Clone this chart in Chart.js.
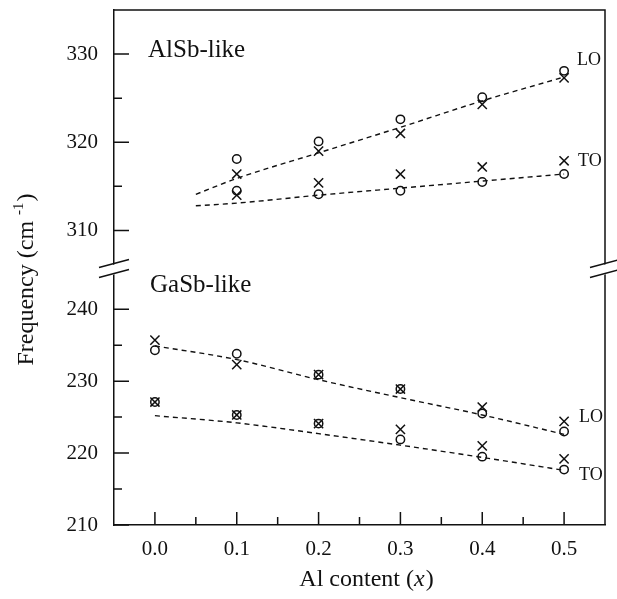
<!DOCTYPE html>
<html>
<head>
<meta charset="utf-8">
<script src="https://cdn.jsdelivr.net/npm/chart.js@4/dist/chart.umd.min.js"></script>
<style>
  html, body { margin: 0; padding: 0; background: #fff; }
  #wrap { width: 617px; height: 599px; }
</style>
</head>
<body>
<div id="wrap"><canvas id="freqChart" width="617" height="599"></canvas></div>
<script>
// Al content (x)
const xAll = [0.0, 0.1, 0.2, 0.3, 0.4, 0.5]
const xAlSb = [0.1, 0.2, 0.3, 0.4, 0.5]
const xAlSbFit = [0.05, 0.1, 0.2, 0.3, 0.4, 0.5]

// AlSb-like modes (cm-1)
const alsbLoCircle = [318.1, 320.1, 322.6, 325.1, 328.1]
const alsbLoCross = [316.4, 319.0, 321.0, 324.3, 327.3]
const alsbToCross = [314.0, 315.4, 316.4, 317.2, 317.9]
const alsbToCircle = [314.5, 314.1, 314.5, 315.5, 316.4]
const alsbLoFit = [314.1, 315.9, 318.8, 321.7, 324.7, 327.4]
const alsbToFit = [312.8, 313.1, 314.0, 314.8, 315.6, 316.4]

// GaSb-like modes (cm-1)
const gasbLoCross = [235.7, 232.3, 230.9, 228.9, 226.4, 224.4]
const gasbLoCircle = [234.3, 233.8, 230.9, 228.9, 225.5, 223.0]
const gasbToCross = [227.1, 225.3, 224.1, 223.3, 221.0, 219.2]
const gasbToCircle = [227.1, 225.3, 224.1, 221.9, 219.5, 217.7]
const gasbLoFit = [234.9, 233.0, 230.2, 227.7, 225.3, 222.6]
const gasbToFit = [225.2, 224.2, 222.7, 221.1, 219.4, 217.6]

// ticks
const xTicks = [0.0, 0.1, 0.2, 0.3, 0.4, 0.5]
const xMinor = [0.05, 0.15, 0.25, 0.35, 0.45]
const yTopTicks = [310, 320, 330]
const yTopMinor = [315, 325]
const yBotTicks = [210, 220, 230, 240]
const yBotMinor = [215, 225, 235]

const FONT = '"Liberation Serif", "DejaVu Serif", serif'
const INK = '#111'
const LW = 1.5

function pts(xs, ys) {
  return xs.map((x, i) => ({ x: x, y: ys[i] }))
}

function marks(xs, ys, style, axis) {
  const isCircle = style === 'circle'
  return {
    data: pts(xs, ys),
    yAxisID: axis,
    showLine: false,
    pointStyle: style,
    pointRadius: isCircle ? 4.2 : 6.5,
    pointBorderWidth: 1.5,
    pointBorderColor: INK,
    pointBackgroundColor: 'rgba(0,0,0,0)',
  }
}

function fit(xs, ys, axis) {
  return {
    data: pts(xs, ys),
    yAxisID: axis,
    showLine: true,
    borderColor: INK,
    borderWidth: 1.4,
    borderDash: [5, 4],
    pointRadius: 0,
    cubicInterpolationMode: 'monotone',
    fill: false,
  }
}

// no extra room for overflowing tick labels, the frame is fixed
function noPad(s) {
  s.paddingTop = 0
  s.paddingBottom = 0
  s.paddingLeft = 0
  s.paddingRight = 0
}

// inward ticks, frame, break marks, titles and labels
const decorPlugin = {
  id: 'decor',
  afterDraw(chart) {
    const ctx = chart.ctx
    const a = chart.chartArea
    const sx = chart.scales.x
    const yt = chart.scales.yTop
    const yb = chart.scales.yBot
    ctx.save()
    ctx.strokeStyle = INK
    ctx.lineWidth = LW

    // frame top + right
    ctx.beginPath()
    ctx.moveTo(a.left, a.top)
    ctx.lineTo(a.right, a.top)
    ctx.lineTo(a.right, a.bottom)
    ctx.stroke()

    // x ticks
    ctx.beginPath()
    xTicks.forEach(v => {
      const px = sx.getPixelForValue(v)
      ctx.moveTo(px, a.bottom); ctx.lineTo(px, a.bottom - 13)
    })
    xMinor.forEach(v => {
      const px = sx.getPixelForValue(v)
      ctx.moveTo(px, a.bottom); ctx.lineTo(px, a.bottom - 8)
    })
    // y ticks
    const yTick = (scale, v, len) => {
      const py = scale.getPixelForValue(v)
      ctx.moveTo(a.left, py); ctx.lineTo(a.left + len, py)
    }
    yTopTicks.forEach(v => yTick(yt, v, 15))
    yTopMinor.forEach(v => yTick(yt, v, 8))
    yBotTicks.forEach(v => yTick(yb, v, 15))
    yBotMinor.forEach(v => yTick(yb, v, 8))
    ctx.stroke()

    // axis break
    const yBreak = yt.bottom + 1
    const drawBreak = (cx) => {
      ctx.fillStyle = '#fff'
      ctx.beginPath()
      ctx.moveTo(cx - 15, yBreak)
      ctx.lineTo(cx + 15, yBreak - 8)
      ctx.lineTo(cx + 15, yBreak + 2)
      ctx.lineTo(cx - 15, yBreak + 10)
      ctx.closePath()
      ctx.fill()
      ctx.beginPath()
      ctx.moveTo(cx - 15, yBreak - 1); ctx.lineTo(cx + 15, yBreak - 9)
      ctx.moveTo(cx - 15, yBreak + 9); ctx.lineTo(cx + 15, yBreak + 1)
      ctx.stroke()
    }
    drawBreak(a.left)
    drawBreak(a.right)

    // panel labels
    ctx.fillStyle = INK
    ctx.textBaseline = 'alphabetic'
    ctx.textAlign = 'left'
    ctx.font = '25px ' + FONT
    ctx.fillText('AlSb-like', a.left + 34, 57)
    ctx.fillText('GaSb-like', a.left + 36, 292)
    ctx.font = '18px ' + FONT
    ctx.fillText('LO', 577, 65)
    ctx.fillText('TO', 578, 166)
    ctx.fillText('LO', 579, 422)
    ctx.fillText('TO', 579, 480)

    // y title
    ctx.save()
    ctx.translate(33, 280)
    ctx.rotate(-Math.PI / 2)
    ctx.font = '24px ' + FONT
    const t1 = 'Frequency (cm '
    const t2 = '-1'
    const t3 = ')'
    const w1 = ctx.measureText(t1).width
    const w3 = ctx.measureText(t3).width
    ctx.font = '15px ' + FONT
    const w2 = ctx.measureText(t2).width
    let x0 = -(w1 + w2 + w3) / 2
    ctx.font = '24px ' + FONT
    ctx.fillText(t1, x0, 0)
    ctx.font = '15px ' + FONT
    ctx.fillText(t2, x0 + w1, -10)
    ctx.font = '24px ' + FONT
    ctx.fillText(t3, x0 + w1 + w2 + 1, 0)
    ctx.restore()

    // x title
    ctx.font = '24px ' + FONT
    const s1 = 'Al content ('
    const s2 = 'x'
    const s3 = ')'
    const v1 = ctx.measureText(s1).width
    const v3 = ctx.measureText(s3).width
    ctx.font = 'italic 24px ' + FONT
    const v2 = ctx.measureText(s2).width
    let xs = 366 - (v1 + v2 + v3) / 2
    ctx.font = '24px ' + FONT
    ctx.fillText(s1, xs, 586)
    ctx.font = 'italic 24px ' + FONT
    ctx.fillText(s2, xs + v1, 586)
    ctx.font = '24px ' + FONT
    ctx.fillText(s3, xs + v1 + v2 + 1, 586)

    ctx.restore()
  }
}

const tickFont = { family: FONT, size: 21 }

new Chart(document.getElementById('freqChart'), {
  type: 'scatter',
  data: {
    datasets: [
      fit(xAlSbFit, alsbLoFit, 'yTop'),
      fit(xAlSbFit, alsbToFit, 'yTop'),
      marks(xAlSb, alsbLoCircle, 'circle', 'yTop'),
      marks(xAlSb, alsbLoCross, 'crossRot', 'yTop'),
      marks(xAlSb, alsbToCross, 'crossRot', 'yTop'),
      marks(xAlSb, alsbToCircle, 'circle', 'yTop'),
      fit(xAll, gasbLoFit, 'yBot'),
      fit(xAll, gasbToFit, 'yBot'),
      marks(xAll, gasbLoCross, 'crossRot', 'yBot'),
      marks(xAll, gasbLoCircle, 'circle', 'yBot'),
      marks(xAll, gasbToCross, 'crossRot', 'yBot'),
      marks(xAll, gasbToCircle, 'circle', 'yBot'),
    ],
  },
  options: {
    responsive: false,
    animation: false,
    layout: { padding: { top: 10, right: 12, left: 0, bottom: 0 } },
    plugins: {
      legend: { display: false },
      tooltip: { enabled: false },
    },
    scales: {
      x: {
        type: 'linear',
        min: -0.05,
        max: 0.55,
        grid: { display: false, drawTicks: false },
        border: { display: true, color: INK, width: LW },
        ticks: {
          color: INK,
          font: tickFont,
          padding: 12,
          callback: (v) => Number(v).toFixed(1),
        },
        afterBuildTicks: (s) => { s.ticks = xTicks.map(v => ({ value: v })) },
        afterFit: (s) => { s.height = 74; noPad(s) },
      },
      yBot: {
        type: 'linear',
        position: 'left',
        stack: 'freq',
        stackWeight: 1,
        min: 210,
        max: 245.8,
        grid: { display: false, drawTicks: false },
        border: { display: true, color: INK, width: LW },
        ticks: { color: INK, font: tickFont, padding: 16 },
        afterBuildTicks: (s) => { s.ticks = yBotTicks.map(v => ({ value: v })) },
        afterFit: (s) => { s.width = 114; noPad(s) },
      },
      yTop: {
        type: 'linear',
        position: 'left',
        stack: 'freq',
        stackWeight: 1,
        min: 305.8,
        max: 335,
        grid: { display: false, drawTicks: false },
        border: { display: true, color: INK, width: LW },
        ticks: { color: INK, font: tickFont, padding: 16 },
        afterBuildTicks: (s) => { s.ticks = yTopTicks.map(v => ({ value: v })) },
        afterFit: (s) => { s.width = 114; noPad(s) },
      },
    },
  },
  plugins: [decorPlugin],
})
</script>
</body>
</html>
